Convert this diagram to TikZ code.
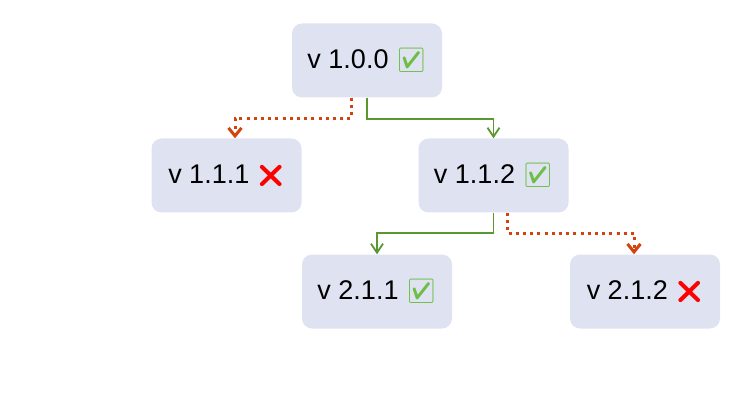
\documentclass[tikz,border=0pt]{standalone}
\usepackage{fontspec}
\setmainfont{Liberation Sans}
\newfontfamily\symfont{Noto Emoji}
\usetikzlibrary{arrows.meta}
\definecolor{boxfill}{HTML}{DFE3F1}
\definecolor{okgreen}{HTML}{5A9632}
\definecolor{failred}{HTML}{D4420E}
\definecolor{tickgreen}{HTML}{6CBE45}
\newcommand{\okmark}{{\symfont\fontsize{24}{27}\selectfont\textcolor{tickgreen}{☑}}}
\newcommand{\failmark}{{\symfont\fontsize{22}{27}\selectfont\textcolor{red}{❌}}}
\tikzset{
  verbox/.style={rounded corners=10pt, fill=boxfill, minimum width=150pt, minimum height=74pt, inner sep=0pt, font=\fontsize{27}{32}\selectfont},
  okline/.style={draw=okgreen, line width=1.7pt, -{Straight Barb[length=9pt,width=12pt,line width=1.8pt]}},
  failline/.style={draw=failred, line width=3pt, dash pattern=on 3pt off 4.2pt, -{Straight Barb[length=8pt,width=13pt,line width=3pt]}}
}

\begin{document}
\begin{tikzpicture}[x=1pt,y=-1pt]
        \useasboundingbox (0,0) rectangle (752,414);
        % versions
        \node[verbox] (v100) at (367,60.5) {v 1.0.0 \okmark};
        \node[verbox] (v111) at (226.5,175.5) {v 1.1.1 \failmark};
        \node[verbox] (v112) at (493.5,175.5) {v 1.1.2 \okmark};
        \node[verbox] (v211) at (377,291.5) {v 2.1.1 \okmark};
        \node[verbox] (v212) at (645,291.5) {v 2.1.2 \failmark};
        % upgrades that fail
        \draw[failline] ([xshift=-16pt]v100.south) -- ++(0,21) -| ([xshift=8.5pt]v111.north);
        \draw[failline] ([xshift=14pt]v112.south) -- ++(0,20.5) -| ([xshift=-11pt]v212.north);
        % upgrades that work
        \draw[okline] (v100.south) -- ++(0,21) -| (v112.north);
        \draw[okline] (v112.south) -- ++(0,20.5) -| (v211.north);
\end{tikzpicture}
\end{document}
